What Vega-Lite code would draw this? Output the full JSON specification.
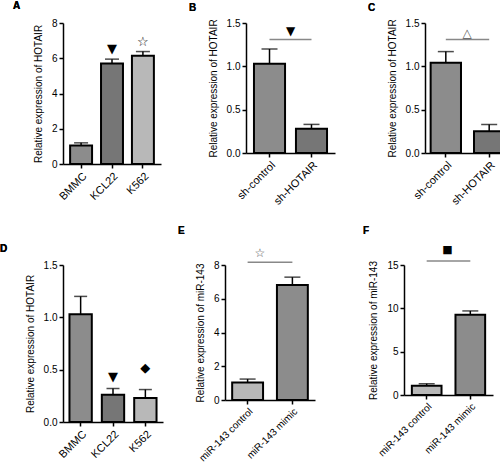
{
  "$schema": "https://vega.github.io/schema/vega-lite/v6.json",
  "padding": {"left": 0, "top": 1, "right": 0, "bottom": 0},
  "background": "white",
  "datasets": {
    "A": [
      {"cat": "BMMC", "value": 1.05, "err": 1.2},
      {"cat": "KCL22", "value": 5.7, "err": 5.95, "sig": "▼", "sy": 6.5},
      {"cat": "K562", "value": 6.14, "err": 6.38, "sig": "☆", "sy": 6.93}
    ],
    "B": [
      {"cat": "sh-control", "value": 1.03, "err": 1.2},
      {"cat": "sh-HOTAIR", "value": 0.28, "err": 0.33}
    ],
    "Bsig": [{"from": "sh-control", "to": "sh-HOTAIR", "ly": 1.31, "sig": "▼", "sy": 1.41}],
    "C": [
      {"cat": "sh-control", "value": 1.04, "err": 1.17},
      {"cat": "sh-HOTAIR", "value": 0.25, "err": 0.33}
    ],
    "Csig": [{"from": "sh-control", "to": "sh-HOTAIR", "ly": 1.31, "sig": "△", "sy": 1.39}],
    "D": [
      {"cat": "BMMC", "value": 1.03, "err": 1.2},
      {"cat": "KCL22", "value": 0.26, "err": 0.32, "sig": "▼", "sy": 0.43},
      {"cat": "K562", "value": 0.23, "err": 0.31, "sig": "◆", "sy": 0.52}
    ],
    "E": [
      {"cat": "miR-143 control", "value": 1.03, "err": 1.24},
      {"cat": "miR-143 mimic", "value": 6.82, "err": 7.28}
    ],
    "Esig": [{"from": "miR-143 control", "to": "miR-143 mimic", "ly": 8.17, "sig": "☆", "sy": 8.7}],
    "F": [
      {"cat": "miR-143 control", "value": 1.07, "err": 1.3},
      {"cat": "miR-143 mimic", "value": 9.26, "err": 9.7}
    ],
    "Fsig": [{"from": "miR-143 control", "to": "miR-143 mimic", "ly": 15.46, "sig": "■", "sy": 16.7}]
  },
  "spacing": 19,
  "vconcat": [
    {
      "spacing": 28,
      "hconcat": [
        {"vconcat": [
        {
          "width": 98, "height": 141,
          "data": {"name": "A"},
          "encoding": {
            "x": {"field": "cat", "type": "nominal", "sort": null, "title": null,
                  "scale": {"paddingInner": 0.29, "paddingOuter": 0.23}}
          },
          "layer": [
            {"mark": {"type": "bar", "stroke": "black", "strokeWidth": 2},
             "encoding": {
               "y": {"field": "value", "type": "quantitative", "title": "Relative expression of HOTAIR",
                     "scale": {"domain": [0, 8], "nice": false}, "axis": {"values": [0, 2, 4, 6, 8], "tickCount": 10}},
               "color": {"field": "cat", "type": "nominal", "legend": null,
                         "scale": {"domain": ["BMMC", "KCL22", "K562"], "range": ["#8c8c8c", "#767676", "#b8b8b8"]}}
             }},
            {"mark": {"type": "rule", "color": "black", "strokeWidth": 1.5},
             "encoding": {"y": {"field": "value", "type": "quantitative"}, "y2": {"field": "err"}}},
            {"mark": {"type": "tick", "color": "black", "thickness": 1.5, "size": 14},
             "encoding": {"y": {"field": "err", "type": "quantitative"}}},
            {"transform": [{"filter": "datum.sig"}],
             "mark": {"type": "text", "font": "DejaVu Sans", "fontSize": 13, "baseline": "middle"},
             "encoding": {"y": {"field": "sy", "type": "quantitative"}, "text": {"field": "sig"},
                          "color": {"value": "black"}}},
            {"mark": {"type": "text", "font": "Liberation Sans", "fontWeight": "bold", "fontSize": 10, "align": "left", "baseline": "alphabetic", "color": "black"},
             "encoding": {"x": {"datum": "BMMC", "type": "nominal", "bandPosition": -2.6},
                          "y": {"datum": 8.77, "type": "quantitative", "scale": {"domain": [0, 8], "nice": false}}, "text": {"value": "A"}}}
          ]
        }]},
        {"spacing": 33, "hconcat": [
        {
          "width": 89, "height": 130,
          "layer": [
            {"data": {"name": "B"},
             "mark": {"type": "bar", "stroke": "black", "strokeWidth": 2},
             "encoding": {
               "x": {"field": "cat", "type": "nominal", "sort": null, "title": null,
                     "scale": {"domain": ["sh-control", "sh-HOTAIR"], "paddingInner": 0.26, "paddingOuter": 0.19}},
               "y": {"field": "value", "type": "quantitative", "title": "Relative expression of HOTAIR",
                     "scale": {"domain": [0, 1.5], "nice": false},
                     "axis": {"values": [0, 0.5, 1, 1.5], "format": ".1f", "tickCount": 10}},
               "color": {"field": "cat", "type": "nominal", "legend": null,
                         "scale": {"domain": ["sh-control", "sh-HOTAIR"], "range": ["#8c8c8c", "#767676"]}}
             }},
            {"data": {"name": "B"},
             "mark": {"type": "rule", "color": "black", "strokeWidth": 1.5},
             "encoding": {"x": {"field": "cat", "type": "nominal"}, "y": {"field": "value", "type": "quantitative"}, "y2": {"field": "err"}}},
            {"data": {"name": "B"},
             "mark": {"type": "tick", "color": "black", "thickness": 1.5, "size": 16},
             "encoding": {"x": {"field": "cat", "type": "nominal"}, "y": {"field": "err", "type": "quantitative"}}},
            {"data": {"name": "Bsig"},
             "mark": {"type": "rule", "color": "#888888", "strokeWidth": 1.5},
             "encoding": {"x": {"field": "from", "type": "nominal"}, "x2": {"field": "to"}, "y": {"field": "ly", "type": "quantitative"}}},
            {"data": {"name": "Bsig"},
             "mark": {"type": "text", "font": "DejaVu Sans", "fontSize": 12, "color": "black", "baseline": "middle"},
             "encoding": {"x": {"field": "from", "type": "nominal", "bandPosition": 1.18},
                          "y": {"field": "sy", "type": "quantitative"}, "text": {"field": "sig"}}},
            {"data": {"name": "B"},
             "mark": {"type": "text", "font": "Liberation Sans", "fontWeight": "bold", "fontSize": 10, "align": "left", "baseline": "alphabetic", "color": "black"},
             "encoding": {"x": {"datum": "sh-control", "type": "nominal", "bandPosition": -2.09},
                          "y": {"datum": 1.644, "type": "quantitative", "scale": {"domain": [0, 1.5], "nice": false}}, "text": {"value": "B"}}}
          ]
        },
        {
          "width": 85, "height": 130,
          "layer": [
            {"data": {"name": "C"},
             "mark": {"type": "bar", "stroke": "black", "strokeWidth": 2},
             "encoding": {
               "x": {"field": "cat", "type": "nominal", "sort": null, "title": null,
                     "scale": {"domain": ["sh-control", "sh-HOTAIR"], "paddingInner": 0.3, "paddingOuter": 0.13}},
               "y": {"field": "value", "type": "quantitative", "title": "Relative expression of HOTAIR",
                     "scale": {"domain": [0, 1.5], "nice": false},
                     "axis": {"values": [0, 0.5, 1, 1.5], "format": ".1f", "tickCount": 10}},
               "color": {"field": "cat", "type": "nominal", "legend": null,
                         "scale": {"domain": ["sh-control", "sh-HOTAIR"], "range": ["#8c8c8c", "#767676"]}}
             }},
            {"data": {"name": "C"},
             "mark": {"type": "rule", "color": "black", "strokeWidth": 1.5},
             "encoding": {"x": {"field": "cat", "type": "nominal"}, "y": {"field": "value", "type": "quantitative"}, "y2": {"field": "err"}}},
            {"data": {"name": "C"},
             "mark": {"type": "tick", "color": "black", "thickness": 1.5, "size": 16},
             "encoding": {"x": {"field": "cat", "type": "nominal"}, "y": {"field": "err", "type": "quantitative"}}},
            {"data": {"name": "Csig"},
             "mark": {"type": "rule", "color": "#888888", "strokeWidth": 1.5},
             "encoding": {"x": {"field": "from", "type": "nominal"}, "x2": {"field": "to"}, "y": {"field": "ly", "type": "quantitative"}}},
            {"data": {"name": "Csig"},
             "mark": {"type": "text", "font": "DejaVu Sans", "fontSize": 12, "color": "#555555", "baseline": "middle"},
             "encoding": {"x": {"field": "from", "type": "nominal", "bandPosition": 1.2},
                          "y": {"field": "sy", "type": "quantitative"}, "text": {"field": "sig"}}},
            {"data": {"name": "C"},
             "mark": {"type": "text", "font": "Liberation Sans", "fontWeight": "bold", "fontSize": 10, "align": "left", "baseline": "alphabetic", "color": "black"},
             "encoding": {"x": {"datum": "sh-control", "type": "nominal", "bandPosition": -2.06},
                          "y": {"datum": 1.638, "type": "quantitative", "scale": {"domain": [0, 1.5], "nice": false}}, "text": {"value": "C"}}}
          ]
        }]}
      ]
    },
    {
      "spacing": 15,
      "hconcat": [
        {"vconcat": [
        {
          "width": 100, "height": 157,
          "data": {"name": "D"},
          "encoding": {
            "x": {"field": "cat", "type": "nominal", "sort": null, "title": null,
                  "scale": {"paddingInner": 0.31, "paddingOuter": 0.2}}
          },
          "layer": [
            {"mark": {"type": "bar", "stroke": "black", "strokeWidth": 2},
             "encoding": {
               "y": {"field": "value", "type": "quantitative", "title": "Relative expression of HOTAIR",
                     "scale": {"domain": [0, 1.5], "nice": false},
                     "axis": {"values": [0, 0.5, 1, 1.5], "format": ".1f", "tickCount": 10}},
               "color": {"field": "cat", "type": "nominal", "legend": null,
                         "scale": {"domain": ["BMMC", "KCL22", "K562"], "range": ["#8c8c8c", "#767676", "#b8b8b8"]}}
             }},
            {"mark": {"type": "rule", "color": "black", "strokeWidth": 1.5},
             "encoding": {"y": {"field": "value", "type": "quantitative"}, "y2": {"field": "err"}}},
            {"mark": {"type": "tick", "color": "black", "thickness": 1.5, "size": 13},
             "encoding": {"y": {"field": "err", "type": "quantitative"}}},
            {"transform": [{"filter": "datum.sig"}],
             "mark": {"type": "text", "font": "DejaVu Sans", "fontSize": 13, "baseline": "middle"},
             "encoding": {"y": {"field": "sy", "type": "quantitative"}, "text": {"field": "sig"},
                          "color": {"value": "black"}}},
            {"mark": {"type": "text", "font": "Liberation Sans", "fontWeight": "bold", "fontSize": 10, "align": "left", "baseline": "alphabetic", "color": "black"},
             "encoding": {"x": {"datum": "BMMC", "type": "nominal", "bandPosition": -3.11},
                          "y": {"datum": 1.624, "type": "quantitative", "scale": {"domain": [0, 1.5], "nice": false}}, "text": {"value": "D"}}}
          ]
        }]},
        {"spacing": 47, "hconcat": [
        {
          "width": 90, "height": 135,
          "layer": [
            {"data": {"name": "E"},
             "mark": {"type": "bar", "stroke": "black", "strokeWidth": 2},
             "encoding": {
               "x": {"field": "cat", "type": "nominal", "sort": null, "title": null,
                     "axis": {"labelFontSize": 10},
                     "scale": {"domain": ["miR-143 control", "miR-143 mimic"], "paddingInner": 0.31, "paddingOuter": 0.16}},
               "y": {"field": "value", "type": "quantitative", "title": "Relative expression of miR-143",
                     "scale": {"domain": [0, 8], "nice": false}, "axis": {"values": [0, 2, 4, 6, 8], "tickCount": 10}},
               "color": {"field": "cat", "type": "nominal", "legend": null,
                         "scale": {"domain": ["miR-143 control", "miR-143 mimic"], "range": ["#8c8c8c", "#767676"]}}
             }},
            {"data": {"name": "E"},
             "mark": {"type": "rule", "color": "black", "strokeWidth": 1.5},
             "encoding": {"x": {"field": "cat", "type": "nominal"}, "y": {"field": "value", "type": "quantitative"}, "y2": {"field": "err"}}},
            {"data": {"name": "E"},
             "mark": {"type": "tick", "color": "black", "thickness": 1.5, "size": 16},
             "encoding": {"x": {"field": "cat", "type": "nominal"}, "y": {"field": "err", "type": "quantitative"}}},
            {"data": {"name": "Esig"},
             "mark": {"type": "rule", "color": "#888888", "strokeWidth": 1.5},
             "encoding": {"x": {"field": "from", "type": "nominal"}, "x2": {"field": "to"}, "y": {"field": "ly", "type": "quantitative"}}},
            {"data": {"name": "Esig"},
             "mark": {"type": "text", "font": "DejaVu Sans", "fontSize": 12, "color": "#555555", "baseline": "middle"},
             "encoding": {"x": {"field": "from", "type": "nominal", "bandPosition": 0.9},
                          "y": {"field": "sy", "type": "quantitative"}, "text": {"field": "sig"}}},
            {"data": {"name": "E"},
             "mark": {"type": "text", "font": "Liberation Sans", "fontWeight": "bold", "fontSize": 10, "align": "left", "baseline": "alphabetic", "color": "black"},
             "encoding": {"x": {"datum": "miR-143 control", "type": "nominal", "bandPosition": -1.75},
                          "y": {"datum": 9.81, "type": "quantitative", "scale": {"domain": [0, 8], "nice": false}}, "text": {"value": "E"}}}
          ]
        },
        {
          "width": 89, "height": 130,
          "layer": [
            {"data": {"name": "F"},
             "mark": {"type": "bar", "stroke": "black", "strokeWidth": 2},
             "encoding": {
               "x": {"field": "cat", "type": "nominal", "sort": null, "title": null,
                     "axis": {"labelFontSize": 10},
                     "scale": {"domain": ["miR-143 control", "miR-143 mimic"], "paddingInner": 0.32, "paddingOuter": 0.18}},
               "y": {"field": "value", "type": "quantitative", "title": "Relative expression of miR-143",
                     "scale": {"domain": [0, 15], "nice": false}, "axis": {"values": [0, 5, 10, 15], "tickCount": 10}},
               "color": {"field": "cat", "type": "nominal", "legend": null,
                         "scale": {"domain": ["miR-143 control", "miR-143 mimic"], "range": ["#8c8c8c", "#767676"]}}
             }},
            {"data": {"name": "F"},
             "mark": {"type": "rule", "color": "black", "strokeWidth": 1.5},
             "encoding": {"x": {"field": "cat", "type": "nominal"}, "y": {"field": "value", "type": "quantitative"}, "y2": {"field": "err"}}},
            {"data": {"name": "F"},
             "mark": {"type": "tick", "color": "black", "thickness": 1.5, "size": 16},
             "encoding": {"x": {"field": "cat", "type": "nominal"}, "y": {"field": "err", "type": "quantitative"}}},
            {"data": {"name": "Fsig"},
             "mark": {"type": "rule", "color": "#888888", "strokeWidth": 1.5},
             "encoding": {"x": {"field": "from", "type": "nominal"}, "x2": {"field": "to"}, "y": {"field": "ly", "type": "quantitative"}}},
            {"data": {"name": "Fsig"},
             "mark": {"type": "text", "font": "DejaVu Sans", "fontSize": 11, "color": "black", "baseline": "middle"},
             "encoding": {"x": {"field": "from", "type": "nominal", "bandPosition": 1.2},
                          "y": {"field": "sy", "type": "quantitative"}, "text": {"field": "sig"}}},
            {"data": {"name": "F"},
             "mark": {"type": "text", "font": "Liberation Sans", "fontWeight": "bold", "fontSize": 10, "align": "left", "baseline": "alphabetic", "color": "black"},
             "encoding": {"x": {"datum": "miR-143 control", "type": "nominal", "bandPosition": -1.65},
                          "y": {"datum": 18.52, "type": "quantitative", "scale": {"domain": [0, 15], "nice": false}}, "text": {"value": "F"}}}
          ]
        }]}
      ]
    }
  ],
  "config": {
    "font": "Liberation Sans",
    "view": {"stroke": null},
    "axis": {
      "domainColor": "black", "domainWidth": 1.5, "tickColor": "black", "tickWidth": 1.5, "tickSize": 4,
      "labelColor": "black", "labelFontSize": 10, "labelPadding": 2, "titleFontSize": 10,
      "titleFontWeight": "normal", "titleColor": "black", "titlePadding": 8, "grid": false,
      "labelFont": "Liberation Sans", "titleFont": "Liberation Sans", "labelOverlap": false
    },
    "axisX": {"labelAngle": -45, "labelFontSize": 11}
  }
}
